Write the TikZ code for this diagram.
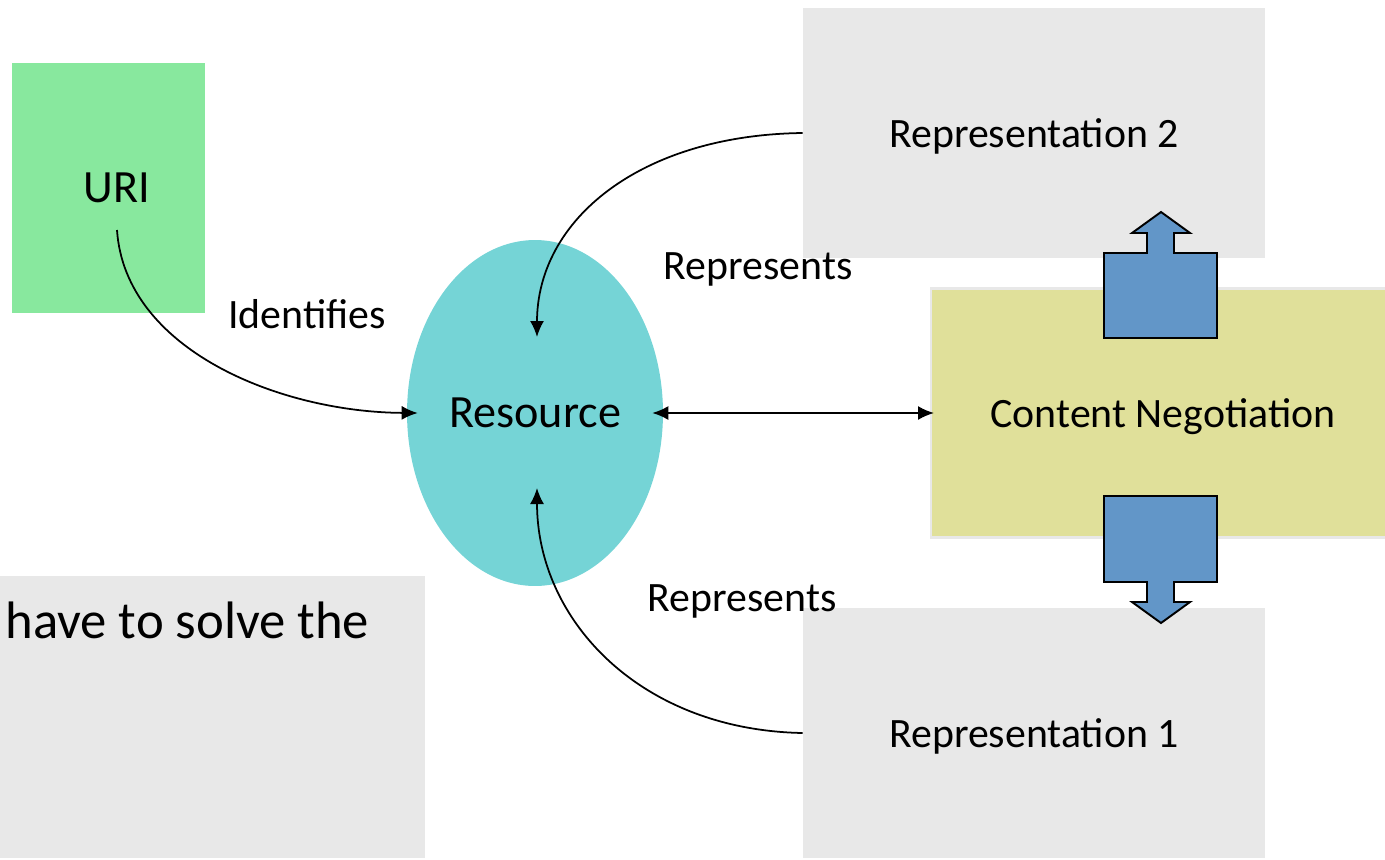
\documentclass[tikz,border=0pt]{standalone}
\usepackage{fontspec}
\setmainfont{Carlito}
\usepackage{tikz}
\usetikzlibrary{shapes,arrows.meta,positioning}

\definecolor{urigreen}{RGB}{136,232,158}
\definecolor{rescyan}{RGB}{117,212,214}
\definecolor{boxgrey}{RGB}{232,232,232}
\definecolor{negyellow}{RGB}{224,224,154}
\definecolor{arrowblue}{RGB}{98,150,200}

\newcommand{\lblfont}{\fontsize{23.8}{28}\selectfont}
\newcommand{\bigfont}{\fontsize{26.3}{30}\selectfont}

\begin{document}
\begin{tikzpicture}[x=0.02cm,y=-0.02cm,
	repbox/.style={fill=boxgrey,minimum width=9.24cm,minimum height=5cm,inner sep=0pt,text depth=0pt,font=\lblfont},
	conn/.style={line width=1pt,-{Latex[length=0.32cm,width=0.28cm]}},
	blockarrow/.style={fill=arrowblue,draw=black,line width=1.1pt,line join=miter}]
	\clip (0,0) rectangle (1385,859);
	%% the boxes
	\node[fill=urigreen,minimum width=3.86cm,minimum height=5cm,inner sep=0pt,text depth=0pt,font=\bigfont] (uri) at (108.5,188) {\hspace*{0.34cm}URI};
	\node[repbox] (rep2) at (1034,133) {Representation 2};
	\node[repbox] (rep1) at (1034,733) {Representation 1};
	\node[fill=negyellow,draw=black!9,line width=1.2pt,minimum width=9.28cm,minimum height=4.98cm,inner sep=0pt,text depth=0pt,font=\lblfont] (neg) at (1163,413) {Content Negotiation};
	\node[fill=boxgrey,minimum width=8.5cm,minimum height=5.66cm,inner sep=0pt] (note) at (212.5,717) {};
	\node[anchor=base west,inner sep=0pt,font=\fontsize{30}{35}\selectfont] (notetext) at (5,638) {have to solve the};
	%% the resource
	\node[ellipse,fill=rescyan,minimum width=5.12cm,minimum height=6.92cm,inner sep=0pt,text depth=0pt,font=\bigfont] (res) at (535,413) {Resource};
	%% block arrows
	\draw[blockarrow] (1104,338) -- (1104,253) -- (1147,253) -- (1147,233) -- (1132,233) -- (1161,212)
		-- (1190,233) -- (1174,233) -- (1174,253) -- (1217,253) -- (1217,338) -- cycle;
	\draw[blockarrow] (1104,496) -- (1217,496) -- (1217,582) -- (1174,582) -- (1174,602) -- (1190,602)
		-- (1161,623) -- (1132,602) -- (1147,602) -- (1147,582) -- (1104,582) -- cycle;
	%% the connectors
	\coordinate (uristart) at (117,230);
	\coordinate (restop) at (537,337);
	\coordinate (resbot) at (537,488);
	\draw[conn] (uristart) .. controls (125,350) and (280,412) .. ([xshift=0.22cm]res.west);
	\draw[conn] (rep2.west) .. controls (640,135) and (537,220) .. (restop);
	\draw[conn] (rep1.west) .. controls (640,730) and (537,620) .. (resbot);
	\draw[conn,{Latex[length=0.32cm,width=0.28cm]}-{Latex[length=0.32cm,width=0.28cm]},shorten <=-0.22cm,shorten >=-0.08cm] (res.east) -- (neg.west);
	%% the labels
	\node[font=\lblfont] (identifies) at (307,314) {Identifies};
	\node[font=\lblfont] (represents2) at (758,269) {Represents};
	\node[font=\lblfont] (represents1) at (742,601) {Represents};
\end{tikzpicture}
\end{document}
